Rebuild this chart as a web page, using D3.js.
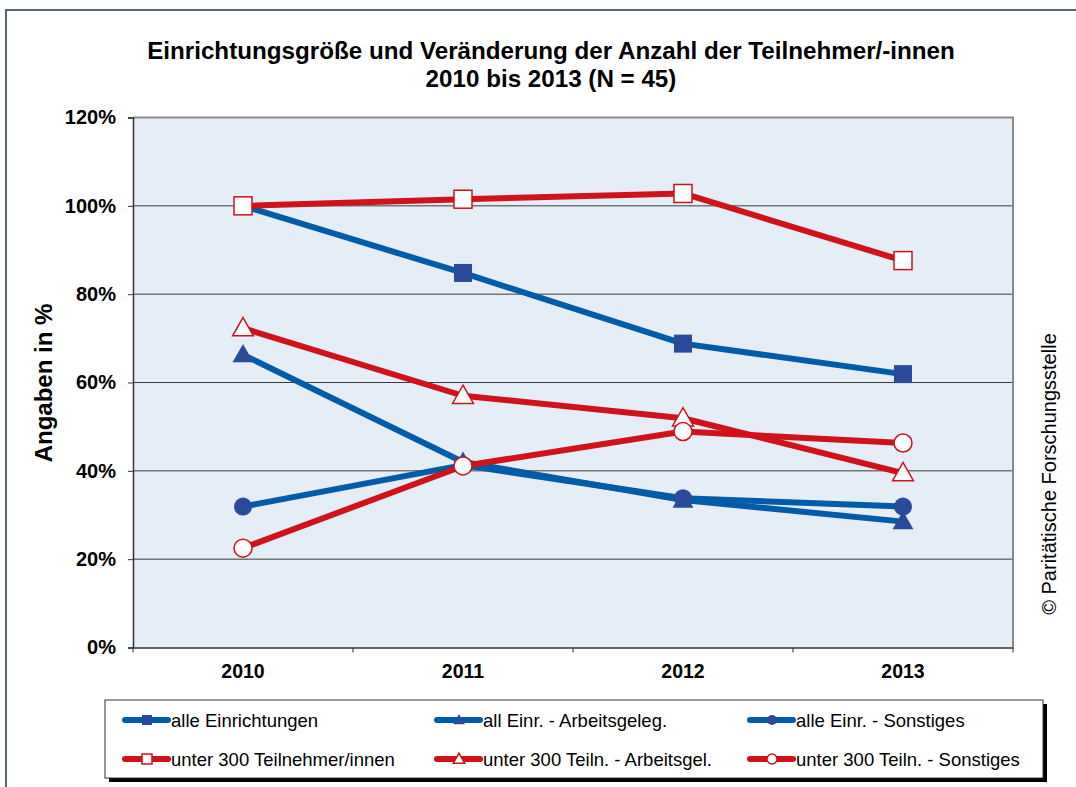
<!DOCTYPE html>
<html>
<head>
<meta charset="utf-8">
<script src="https://cdn.jsdelivr.net/npm/d3@7"></script>
<style>
  body { margin: 0; background: #fff; }
  svg { display: block; font-family: "Liberation Sans", Arial, sans-serif; }
</style>
</head>
<body>
<div id="chart"></div>
<script>
const width = 1076, height = 787;

const years = ["2010", "2011", "2012", "2013"];
const yTicks = [0, 20, 40, 60, 80, 100, 120];

// values in %
const alleEinr      = [100, 84.8, 68.8, 61.9];
const alleArbeit    = [66.3, 42.0, 33.4, 28.5];
const alleSonst     = [31.9, 41.3, 33.8, 31.9];
const unter300      = [100, 101.5, 102.8, 87.6];
const unter300Arb   = [72.3, 57.0, 51.9, 39.5];
const unter300Sonst = [22.5, 41.1, 48.9, 46.3];

const series = [
  { name: "alle Einrichtungen",          values: alleEinr,      color: "#005ca8", fill: "#2a4b9b", shape: "square",   open: false },
  { name: "all Einr. - Arbeitsgeleg.",   values: alleArbeit,    color: "#005ca8", fill: "#2a4b9b", shape: "triangle", open: false },
  { name: "alle Einr. - Sonstiges",      values: alleSonst,     color: "#005ca8", fill: "#2a4b9b", shape: "circle",   open: false },
  { name: "unter 300 Teilnehmer/innen",  values: unter300,      color: "#d0121a", fill: "#ffffff", shape: "square",   open: true },
  { name: "unter 300 Teiln. - Arbeitsgel.", values: unter300Arb, color: "#d0121a", fill: "#ffffff", shape: "triangle", open: true },
  { name: "unter 300 Teiln. - Sonstiges", values: unter300Sonst, color: "#d0121a", fill: "#ffffff", shape: "circle",  open: true }
];

const plot = { left: 133, top: 117.5, right: 1013, bottom: 647.5 };

const svg = d3.select("#chart").append("svg")
  .attr("width", width).attr("height", height);

// outer frame
svg.append("rect")
  .attr("x", 6).attr("y", 10).attr("width", width + 10).attr("height", height + 10)
  .attr("fill", "none").attr("stroke", "#1f3550").attr("stroke-width", 1.5);

// title
const title = svg.append("text")
  .attr("text-anchor", "middle").attr("font-weight", "bold").attr("font-size", 24.2)
  .attr("fill", "#000");
title.append("tspan").attr("x", 551).attr("y", 59).text("Einrichtungsgröße und Veränderung der Anzahl der Teilnehmer/-innen");
title.append("tspan").attr("x", 551).attr("y", 87).text("2010 bis 2013 (N = 45)");

const x = d3.scaleBand().domain(years).range([plot.left, plot.right]);
const y = d3.scaleLinear().domain([0, 120]).range([plot.bottom, plot.top]);

// plot background
svg.append("rect")
  .attr("x", plot.left).attr("y", plot.top)
  .attr("width", plot.right - plot.left).attr("height", plot.bottom - plot.top)
  .attr("fill", "#e5eef6");

// gridlines
svg.append("g").selectAll("line")
  .data(yTicks.filter(d => d > 0 && d < 120))
  .join("line")
  .attr("x1", plot.left).attr("x2", plot.right)
  .attr("y1", d => y(d)).attr("y2", d => y(d))
  .attr("stroke", "#3c3c3c").attr("stroke-width", 1);

// top and right plot border
svg.append("path")
  .attr("d", `M${plot.left},${plot.top}H${plot.right}V${plot.bottom}`)
  .attr("fill", "none").attr("stroke", "#8a8a8a").attr("stroke-width", 2);

// y axis
const yAxis = svg.append("g")
  .attr("transform", `translate(${plot.left},0)`)
  .call(d3.axisLeft(y).tickValues(yTicks).tickSize(5).tickPadding(12).tickFormat(d => d + "%"));
yAxis.select(".domain").attr("stroke", "#333").attr("stroke-width", 1.5);
yAxis.selectAll(".tick line").attr("stroke", "#333");
yAxis.selectAll("text").attr("font-size", 20).attr("font-weight", "bold")
  .attr("fill", "#000").attr("font-family", "Liberation Sans, Arial, sans-serif");

// x axis
const xAxis = svg.append("g")
  .attr("transform", `translate(0,${plot.bottom})`)
  .call(d3.axisBottom(x).tickSize(0).tickPadding(17));
xAxis.select(".domain").attr("stroke", "#333").attr("stroke-width", 1.5);
xAxis.selectAll("text").attr("font-size", 19.5).attr("font-weight", "bold")
  .attr("fill", "#000").attr("font-family", "Liberation Sans, Arial, sans-serif");
// category separators
xAxis.selectAll(".sep")
  .data(years.concat(["end"]))
  .join("line")
  .attr("class", "sep")
  .attr("x1", (d, i) => plot.left + i * x.bandwidth())
  .attr("x2", (d, i) => plot.left + i * x.bandwidth())
  .attr("y1", 0).attr("y2", 5)
  .attr("stroke", "#333");

// y axis title
svg.append("text")
  .attr("transform", "translate(52,383) rotate(-90)")
  .attr("text-anchor", "middle").attr("font-size", 24).attr("font-weight", "bold")
  .text("Angaben in %");

// copyright
svg.append("text")
  .attr("transform", "translate(1056,474) rotate(-90)")
  .attr("text-anchor", "middle").attr("font-size", 20)
  .text("© Paritätische Forschungsstelle");

const cx = d => x(d) + x.bandwidth() / 2;

function marker(g, s, size) {
  if (s.shape === "circle") {
    g.append("circle").attr("r", size / 2);
  } else if (s.shape === "square") {
    g.append("rect").attr("x", -size / 2).attr("y", -size / 2).attr("width", size).attr("height", size);
  } else {
    const h = size * 0.95;
    g.append("path").attr("d", `M0,${-h * 0.62}L${size * 0.58},${h * 0.45}L${-size * 0.58},${h * 0.45}Z`);
  }
  g.selectAll("*")
    .attr("fill", s.fill)
    .attr("stroke", s.open ? s.color : "none")
    .attr("stroke-width", 1.5);
}

const line = d3.line().x((d, i) => cx(years[i])).y(d => y(d));

const layer = svg.append("g");
series.forEach(s => {
  layer.append("path")
    .attr("d", line(s.values))
    .attr("fill", "none").attr("stroke", s.color).attr("stroke-width", 6)
    .attr("stroke-linejoin", "round");
});
series.forEach(s => {
  s.values.forEach((v, i) => {
    const g = layer.append("g").attr("transform", `translate(${cx(years[i])},${y(v)})`);
    marker(g, s, 18);
  });
});

// legend
const leg = { x: 105, y: 700, w: 938, h: 78 };
svg.append("rect").attr("x", leg.x + 4).attr("y", leg.y + 4).attr("width", leg.w).attr("height", leg.h).attr("fill", "#000");
svg.append("rect").attr("x", leg.x).attr("y", leg.y).attr("width", leg.w).attr("height", leg.h)
  .attr("fill", "#fff").attr("stroke", "#333").attr("stroke-width", 1);

const colX = [125, 437, 750];
const rowY = [720, 759];
series.forEach((s, i) => {
  const lx = colX[i % 3], ly = rowY[Math.floor(i / 3)];
  const g = svg.append("g").attr("transform", `translate(${lx},${ly})`);
  g.append("line").attr("x1", 0).attr("x2", 43).attr("y1", 0).attr("y2", 0)
    .attr("stroke", s.color).attr("stroke-width", 6).attr("stroke-linecap", "round");
  const m = g.append("g").attr("transform", "translate(22,0)");
  marker(m, s, 10);
  g.append("text").attr("x", 46).attr("y", 6.5).attr("font-size", 18.5).text(s.name);
});
</script>
</body>
</html>
